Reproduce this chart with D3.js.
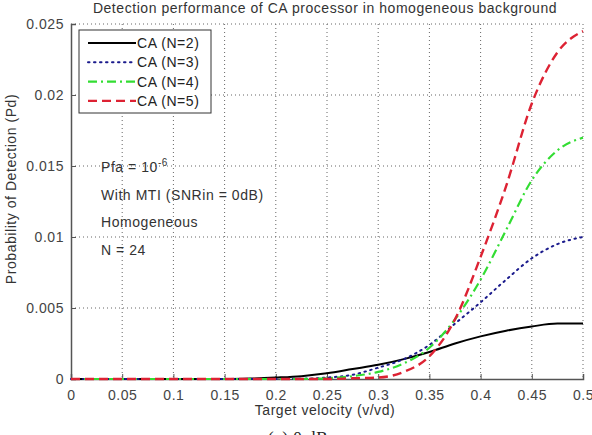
<!DOCTYPE html>
<html>
<head>
<meta charset="utf-8">
<script src="https://cdn.jsdelivr.net/npm/d3@7"></script>
<style>
  body { margin: 0; background: #fff; }
  svg { display: block; font-family: "Liberation Sans", Arial, sans-serif; }
</style>
</head>
<body>
<div id="chart"></div>
<script>
// data
var velocity = [0, 0.025, 0.05, 0.075, 0.1, 0.125, 0.15, 0.175, 0.2, 0.225, 0.25,
                0.275, 0.3, 0.325, 0.35, 0.375, 0.4, 0.425, 0.45, 0.475, 0.5];
var pdN2 = [0, 0, 0, 0, 0, 0, 0, 0.00003, 0.0001, 0.0002, 0.0004,
            0.0007, 0.001, 0.0014, 0.0019, 0.0025, 0.003, 0.0034, 0.0037, 0.0039, 0.0039];
var pdN3 = [0, 0, 0, 0, 0, 0, 0, 0, 0, 0.00002, 0.0001,
            0.0003, 0.0008, 0.0014, 0.0024, 0.0039, 0.0054, 0.007, 0.0085, 0.0095, 0.01];
var pdN4 = [0, 0, 0, 0, 0, 0, 0, 0, 0, 0, 0.00005,
            0.0002, 0.0005, 0.0011, 0.0022, 0.0042, 0.007, 0.0105, 0.014, 0.0161, 0.017];
var pdN5 = [0, 0, 0, 0, 0, 0, 0, 0, 0, 0, 0,
            0.00005, 0.0001, 0.0005, 0.0016, 0.0042, 0.0086, 0.0136, 0.0194, 0.023, 0.0245];
var seriesNames = ["CA (N=2)", "CA (N=3)", "CA (N=4)", "CA (N=5)"];
var xTicks = [0, 0.05, 0.1, 0.15, 0.2, 0.25, 0.3, 0.35, 0.4, 0.45, 0.5];
var yTicks = [0, 0.005, 0.01, 0.015, 0.02, 0.025];

var W = 592, H = 435;
var margin = {top: 24, right: 9, bottom: 56, left: 71},
    width = W - margin.left - margin.right,
    height = H - margin.top - margin.bottom;

var svg = d3.select("#chart")
  .append("svg")
    .attr("width", W)
    .attr("height", H)
    .style("letter-spacing", "0.55px");

var g = svg.append("g")
    .attr("transform", "translate(" + margin.left + "," + margin.top + ")");

var x = d3.scaleLinear().domain([0, 0.5]).range([0, width]);
var y = d3.scaleLinear().domain([0, 0.025]).range([height, 0]);

// dotted grid
g.append("g").selectAll("line")
  .data(xTicks.slice(1))
  .enter().append("line")
    .attr("x1", function(d) { return x(d); })
    .attr("x2", function(d) { return x(d); })
    .attr("y1", 0).attr("y2", height)
    .attr("stroke", "#666").attr("stroke-width", 1)
    .attr("stroke-dasharray", "1,3");
g.append("g").selectAll("line")
  .data(yTicks.slice(1))
  .enter().append("line")
    .attr("x1", 0).attr("x2", width)
    .attr("y1", function(d) { return y(d); })
    .attr("y2", function(d) { return y(d); })
    .attr("stroke", "#666").attr("stroke-width", 1)
    .attr("stroke-dasharray", "1,3");

// axes (ticks point inward like matlab)
var xAxis = g.append("g")
  .attr("transform", "translate(0," + height + ")")
  .call(d3.axisBottom(x).tickValues(xTicks).tickSize(-5).tickPadding(11)
    .tickFormat(function(d) { return d3.format("")(d); }));
var yAxis = g.append("g")
  .call(d3.axisLeft(y).tickValues(yTicks).tickSize(-5).tickPadding(7)
    .tickFormat(function(d) { return d3.format("")(d); }));

[xAxis, yAxis].forEach(function(a) {
  a.select(".domain").attr("stroke", "#555").attr("stroke-width", 1.5);
  a.selectAll(".tick line").attr("stroke", "#555");
  a.selectAll("text")
    .attr("fill", "#444")
    .style("font-family", "Liberation Sans, Arial, sans-serif")
    .style("font-size", "14px");
});

// series
var series = [
  {name: seriesNames[0], values: pdN2, color: "#000000", dash: null, width: 2},
  {name: seriesNames[1], values: pdN3, color: "#1a1a8c", dash: "1.5,4.5", width: 2},
  {name: seriesNames[2], values: pdN4, color: "#33dd33", dash: "9,4,2,4", width: 2.2},
  {name: seriesNames[3], values: pdN5, color: "#dd2233", dash: "9,5", width: 2.4}
];

var line = d3.line()
  .x(function(d, i) { return x(velocity[i]); })
  .y(function(d) { return y(d); })
  .curve(d3.curveMonotoneX);

series.forEach(function(s) {
  g.append("path")
    .datum(s.values)
    .attr("d", line)
    .attr("fill", "none")
    .attr("stroke", s.color)
    .attr("stroke-width", s.width)
    .attr("stroke-linecap", s.dash === "1.5,4.5" ? "round" : "butt")
    .attr("stroke-dasharray", s.dash);
});

// legend
var legend = svg.append("g").attr("transform", "translate(79,30)");
legend.append("rect")
  .attr("width", 132).attr("height", 83)
  .attr("fill", "#fff").attr("stroke", "#333").attr("stroke-width", 1);
series.forEach(function(s, i) {
  var ly = 13 + i * 19.3;
  legend.append("line")
    .attr("x1", 9).attr("x2", 57)
    .attr("y1", ly).attr("y2", ly)
    .attr("stroke", s.color)
    .attr("stroke-width", s.width)
    .attr("stroke-linecap", s.dash === "1.5,4.5" ? "round" : "butt")
    .attr("stroke-dasharray", s.dash);
  legend.append("text")
    .attr("x", 58).attr("y", ly + 5)
    .attr("fill", "#222")
    .style("font-size", "14px")
    .text(s.name);
});

// annotations
var ann = svg.append("g").attr("fill", "#333").style("font-size", "14px");
var pfa = ann.append("text").attr("x", 101).attr("y", 172);
pfa.append("tspan").text("Pfa = 10");
pfa.append("tspan").attr("dy", -6).style("font-size", "10px").text("-6");
ann.append("text").attr("x", 101).attr("y", 200).text("With MTI (SNRin = 0dB)");
ann.append("text").attr("x", 101).attr("y", 227).text("Homogeneous");
ann.append("text").attr("x", 101).attr("y", 255).text("N = 24");

// title and axis labels
svg.append("text")
  .attr("x", 325).attr("y", 13)
  .attr("text-anchor", "middle")
  .attr("fill", "#333")
  .style("font-size", "14px")
  .text("Detection performance of CA processor in homogeneous background");

svg.append("text")
  .attr("x", 325).attr("y", 415)
  .attr("text-anchor", "middle")
  .attr("fill", "#333")
  .style("font-size", "14px")
  .text("Target velocity (v/vd)");

svg.append("text")
  .attr("transform", "translate(16,189)rotate(-90)")
  .attr("text-anchor", "middle")
  .attr("fill", "#333")
  .style("font-size", "14px")
  .text("Probability of Detection (Pd)");

// caption, partly cut off at the bottom edge as in the figure
svg.append("text")
  .attr("x", 298).attr("y", 443)
  .attr("text-anchor", "middle")
  .attr("fill", "#222")
  .style("font-family", "Liberation Serif, serif")
  .style("font-size", "17px")
  .text("(a)  0 dB");
</script>
</body>
</html>
